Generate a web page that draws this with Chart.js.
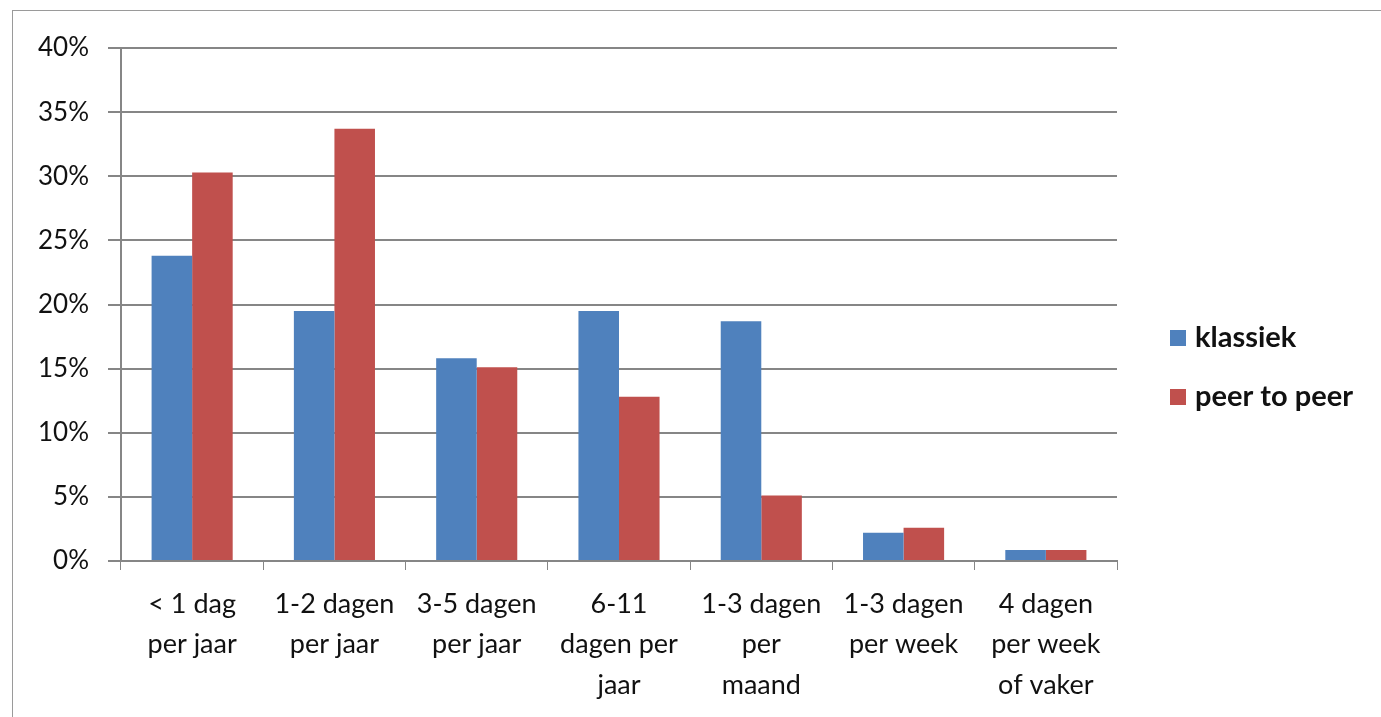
<!DOCTYPE html>
<html>
<head>
<meta charset="utf-8">
<style>
    html, body {
        margin: 0;
        padding: 0;
        background: #fff;
        overflow: hidden;
    }
    #frame {
        position: absolute;
        left: 12px;
        top: 10px;
        width: 1400px;
        height: 740px;
        border: 1px solid #9a9a9a;
    }
    #wrap {
        position: absolute;
        left: 0;
        top: 0;
        width: 1381px;
        height: 717px;
    }
</style>
</head>
<body>
<div id="frame"></div>
<div id="wrap"><canvas id="chart"></canvas></div>

<script src="https://cdn.jsdelivr.net/npm/chart.js@4.4.0/dist/chart.umd.min.js"></script>
<script>
    // frequency categories (multi-line labels)
    const categories = [
        ['< 1 dag', 'per jaar'],
        ['1-2 dagen', 'per jaar'],
        ['3-5 dagen', 'per jaar'],
        ['6-11', 'dagen per', 'jaar'],
        ['1-3 dagen', 'per', 'maand'],
        ['1-3 dagen', 'per week'],
        ['4 dagen', 'per week', 'of vaker']
    ];
    const seriesNames = ['klassiek', 'peer to peer'];
    const klassiek = [23.8, 19.5, 15.8, 19.5, 18.7, 2.2, 0.85];
    const peerToPeer = [30.3, 33.7, 15.1, 12.8, 5.1, 2.6, 0.85];
    const yTicks = [0, 5, 10, 15, 20, 25, 30, 35, 40];

    const fontFamily = "Lato, 'Open Sans', sans-serif";

    // legend drawn to the right of the plot, like the Excel original
    const sideLegend = {
        id: 'sideLegend',
        afterDraw(chart) {
            const c = chart.ctx;
            const area = chart.chartArea;
            const x = area.right + 53;
            c.save();
            c.font = 'bold 29px ' + fontFamily;
            c.textBaseline = 'middle';
            chart.data.datasets.forEach((ds, i) => {
                const y = area.top + 290 + i * 59;
                c.fillStyle = ds.backgroundColor;
                c.fillRect(x, y - 8, 16, 16);
                c.fillStyle = '#111';
                c.fillText(ds.label, x + 25, y);
            });
            c.restore();
        }
    };

    const ctx = document.getElementById('chart').getContext('2d');
    const chart = new Chart(ctx, {
        type: 'bar',
        data: {
            labels: categories,
            datasets: [{
                label: seriesNames[0],
                data: klassiek,
                backgroundColor: '#4f81bd'
            }, {
                label: seriesNames[1],
                data: peerToPeer,
                backgroundColor: '#c0504d'
            }]
        },
        plugins: [sideLegend],
        options: {
            responsive: true,
            maintainAspectRatio: false,
            animation: false,
            layout: {
                padding: { left: 0, top: 48, right: 264, bottom: 0 }
            },
            datasets: {
                bar: {
                    categoryPercentage: 0.57,
                    barPercentage: 1.0
                }
            },
            plugins: {
                tooltip: { enabled: false },
                legend: { display: false }
            },
            scales: {
                x: {
                    afterFit: (axis) => { axis.height = 156; },
                    grid: {
                        display: true,
                        offset: true,
                        drawOnChartArea: false,
                        drawTicks: true,
                        tickLength: 9,
                        color: '#868686'
                    },
                    border: { color: '#868686', width: 2 },
                    ticks: {
                        color: '#111',
                        maxRotation: 0,
                        autoSkip: false,
                        padding: 14,
                        font: { family: fontFamily, size: 27, lineHeight: 1.5 }
                    }
                },
                y: {
                    min: 0,
                    max: 40,
                    afterFit: (axis) => { axis.width = 121; },
                    afterBuildTicks: (axis) => {
                        axis.ticks = yTicks.map(v => ({ value: v }));
                    },
                    grid: {
                        color: '#868686',
                        lineWidth: 2,
                        drawTicks: true,
                        tickLength: 13
                    },
                    border: { color: '#868686', width: 2 },
                    ticks: {
                        color: '#111',
                        padding: 19,
                        callback: (v) => v + '%',
                        font: { family: fontFamily, size: 26 }
                    }
                }
            }
        }
    });
</script>
</body>
</html>
